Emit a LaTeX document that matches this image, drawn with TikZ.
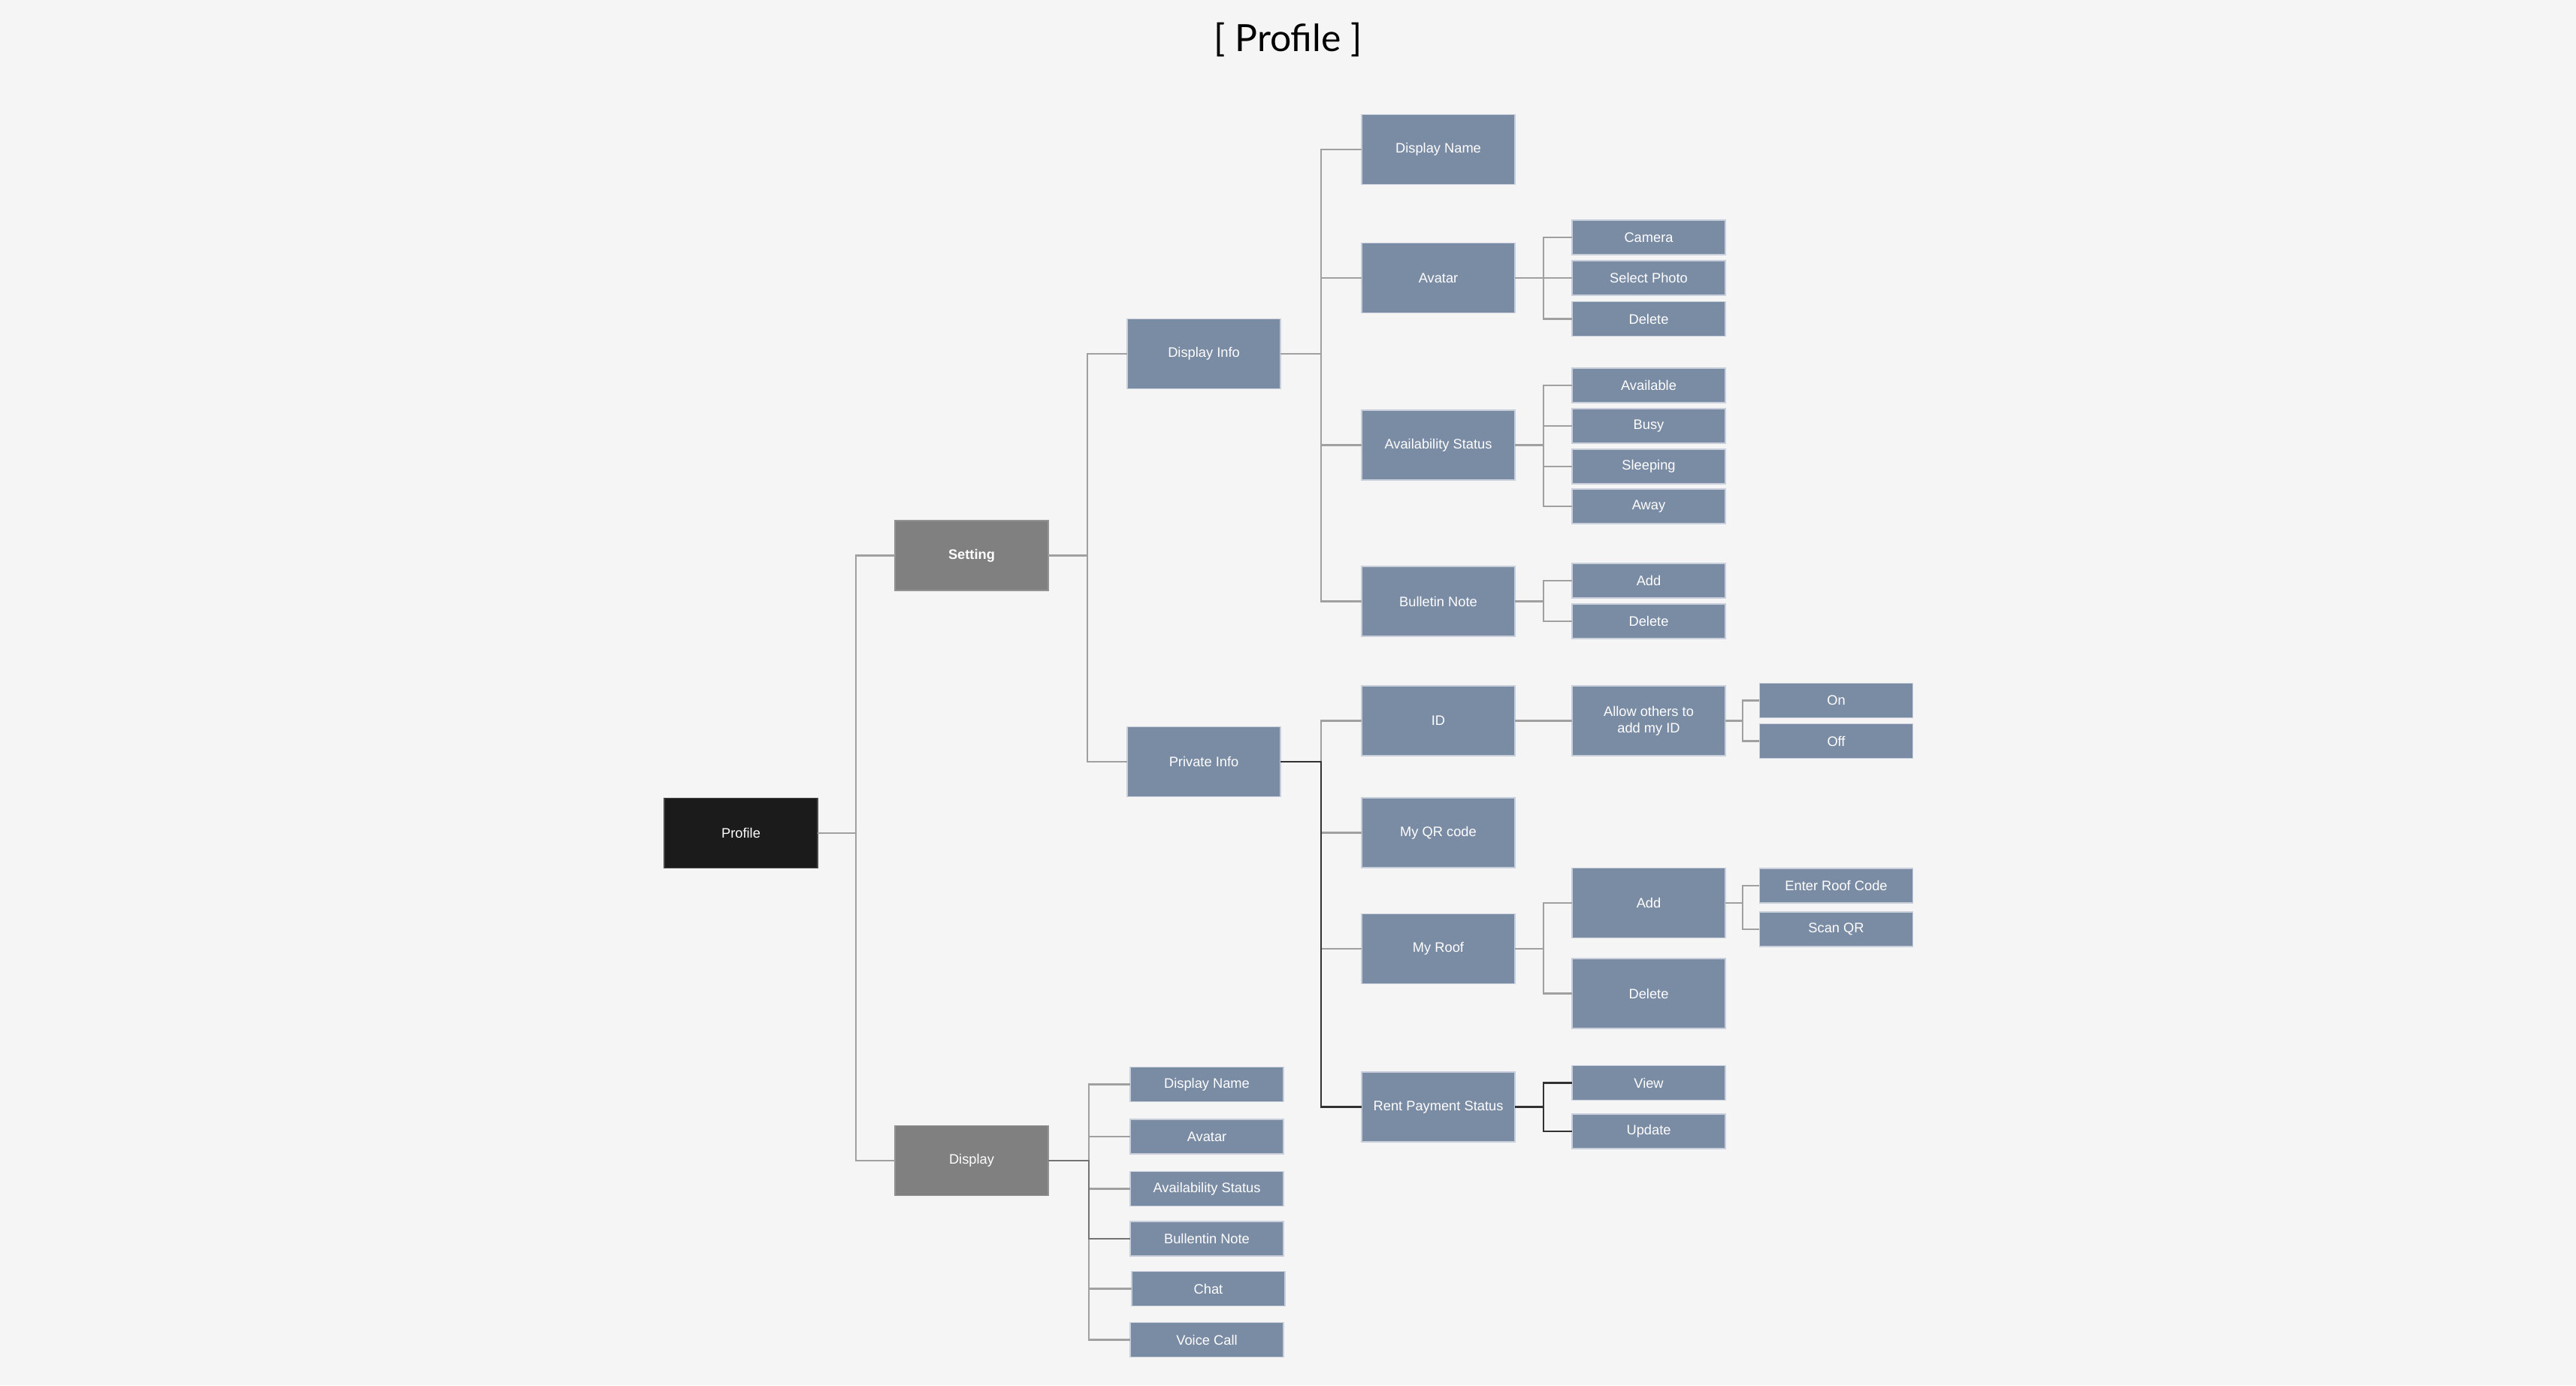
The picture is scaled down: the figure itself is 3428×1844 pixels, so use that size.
\documentclass[tikz,border=0pt]{standalone}
\usepackage{fontspec}
\setmainfont{Liberation Sans}
\newfontfamily\titlefont{Lato}
\usepackage{xcolor}
\usetikzlibrary{calc}

\begin{document}
\begin{tikzpicture}[x=0.01cm, y=-0.01cm,
  box/.style={rectangle, inner sep=0pt, outer sep=0pt,
    minimum width=2.04cm, minimum height=0.93cm, align=center,
    text=white, draw=boxedge, line width=0.4pt,
    font=\fontsize{5.2}{6.2}\selectfont},
  tall/.style={box, fill=slate},
  short/.style={box, fill=slate, minimum height=0.46cm},
  link/.style={linegrey, line width=0.6pt},
  midlink/.style={linemid, line width=0.6pt},
  darklink/.style={linedark, line width=0.6pt}]
% Sitemap of the profile screen: one root, two branches, every
% parent tied to its children by square elbows through a trunk.
\definecolor{paper}{RGB}{245, 245, 245}
\definecolor{slate}{RGB}{122, 139, 164}
\definecolor{boxedge}{RGB}{200, 207, 218}
\definecolor{rootfill}{RGB}{27, 27, 27}
\definecolor{midfill}{RGB}{128, 128, 128}
\definecolor{linegrey}{RGB}{160, 160, 160}
\definecolor{linemid}{RGB}{115, 115, 115}
\definecolor{linedark}{RGB}{50, 50, 50}
\fill[paper] (0,0) rectangle (3428,1844);
\useasboundingbox (0,0) rectangle (3428,1844);

\node[font=\titlefont\fontsize{14.2}{17}\selectfont, inner sep=0pt] (title) at (1714,53) {[ Profile ]};

% root and first level
\node[box, fill=rootfill, draw=rootfill!80!white] (root) at (986,1109) {Profile};
\node[box, fill=midfill, draw=midfill!85!white, font=\fontsize{5.2}{6.2}\selectfont\bfseries] (set) at (1293,739.5) {Setting};
\node[box, fill=midfill, draw=midfill!85!white] (disp) at (1293,1545) {Display};
\foreach \nm in {set, disp} {
  \draw[link] (root.east) -- ++(51,0) |- (\nm.west);
}

% setting branch
\node[tall] (dinfo) at (1602,471) {Display Info};
\node[tall] (pinfo) at (1602,1014) {Private Info};
\foreach \nm in {dinfo, pinfo} {
  \draw[link] (set.east) -- ++(52,0) |- (\nm.west);
}

\foreach \nm/\txt/\y in {dname/Display Name/199, avatar/Avatar/370,
    avail/Availability Status/592.5, bnote/Bulletin Note/800.5} {
  \node[tall] (\nm) at (1914,\y) {\txt};
  \draw[link] (dinfo.east) -- ++(54,0) |- (\nm.west);
}

\foreach \nm/\txt/\y in {cam/Camera/316, sel/Select Photo/370, adel/Delete/424.5} {
  \node[short] (\nm) at (2194,\y) {\txt};
  \draw[link] (avatar.east) -- ++(38,0) |- (\nm.west);
}
\foreach \nm/\txt/\y in {avl/Available/513, busy/Busy/567, sleep/Sleeping/621, away/Away/674} {
  \node[short] (\nm) at (2194,\y) {\txt};
  \draw[link] (avail.east) -- ++(38,0) |- (\nm.west);
}
\foreach \nm/\txt/\y in {badd/Add/773, bdel/Delete/827} {
  \node[short] (\nm) at (2194,\y) {\txt};
  \draw[link] (bnote.east) -- ++(38,0) |- (\nm.west);
}

% private info
\foreach \nm/\txt/\y in {id/ID/959.5, qr/My QR code/1108.5, roof/My Roof/1263} {
  \node[tall] (\nm) at (1914,\y) {\txt};
  \draw[link] (pinfo.east) -- ++(54,0) |- (\nm.west);
}
\node[tall] (rent) at (1914,1473.5) {Rent Payment Status};
\draw[darklink] (pinfo.east) -- ++(54,0) |- (rent.west);

\node[tall] (allow) at (2194,959.5) {Allow others to\\add my ID};
\draw[link] (id) -- (allow);
\foreach \nm/\txt/\y in {on/On/932.5, off/Off/986.5} {
  \node[short] (\nm) at (2443.5,\y) {\txt};
  \draw[link] (allow.east) -- ++(23,0) |- (\nm.west);
}

\foreach \nm/\txt/\y in {radd/Add/1202, rdel/Delete/1322.5} {
  \node[tall] (\nm) at (2194,\y) {\txt};
  \draw[link] (roof.east) -- ++(38,0) |- (\nm.west);
}
\foreach \nm/\txt/\y in {enter/Enter Roof Code/1179, scan/Scan QR/1237} {
  \node[short] (\nm) at (2443.5,\y) {\txt};
  \draw[link] (radd.east) -- ++(23,0) |- (\nm.west);
}

\foreach \nm/\txt/\y in {view/View/1441.5, upd/Update/1506} {
  \node[short] (\nm) at (2194,\y) {\txt};
  \draw[darklink] (rent.east) -- ++(38,0) |- (\nm.west);
}

% display branch
\foreach \nm/\txt/\x/\y in {ddname/Display Name/1606/1443.5, davatar/Avatar/1606/1513,
    davail/Availability Status/1606/1582.5, dnote/Bullentin Note/1606/1649,
    dchat/Chat/1608/1715.5, dcall/Voice Call/1606/1783.5} {
  \node[short] (\nm) at (\x,\y) {\txt};
  \draw[link] (disp.east) -- ++(54,0) |- (\nm.west);
}
\draw[midlink] (disp.east) -- ++(54,0) |- (dnote.west);
\end{tikzpicture}
\end{document}
